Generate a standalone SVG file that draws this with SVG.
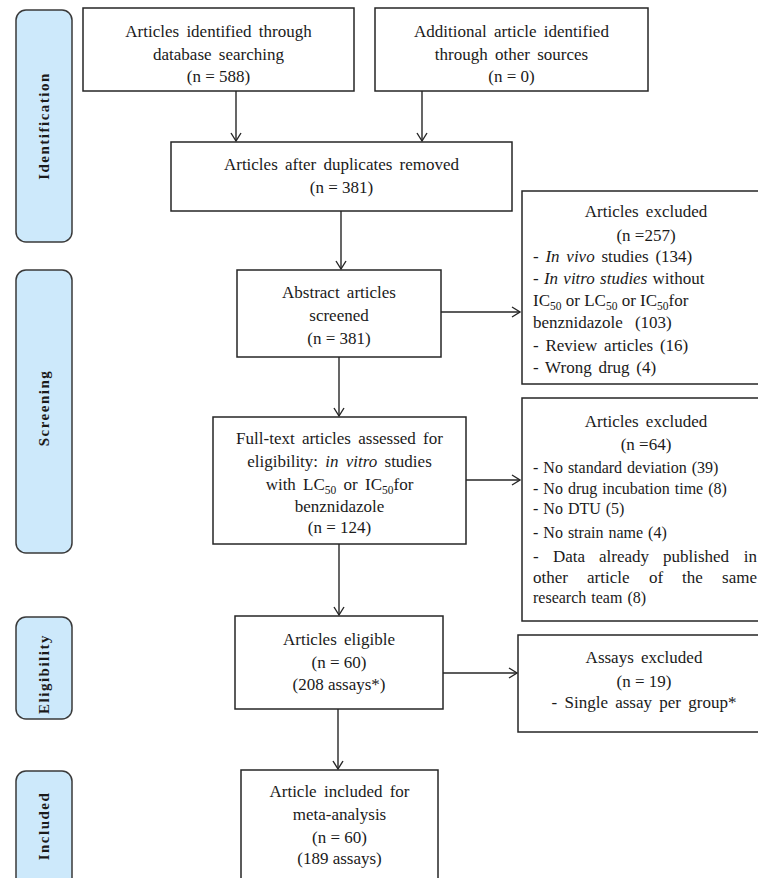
<svg xmlns="http://www.w3.org/2000/svg" width="758" height="878" viewBox="0 0 758 878">
<defs>
<style>
.bg{fill:#ffffff}
.phase{fill:#cde9fb;stroke:#3a3a3a;stroke-width:1.5}
.box{fill:#ffffff;stroke:#262626;stroke-width:1.5}
.t{font-family:"Liberation Serif","Times New Roman",serif;font-size:17px;fill:#1a1a1a}
.s16{font-size:16px}
.c{text-anchor:middle}
.e{text-anchor:end}
.ph{font-family:"Liberation Serif","Times New Roman",serif;font-size:15px;font-weight:bold;fill:#1a1a1a;text-anchor:middle;letter-spacing:1.5px}
.ws{word-spacing:3px}
.ws2{word-spacing:2.5px}
.ws1{word-spacing:1px}
.sub{font-size:11.5px}
.con{stroke:#262626;stroke-width:1.4;fill:none}
</style>
<marker id="arr" markerWidth="12" markerHeight="12" refX="10" refY="6" orient="auto" markerUnits="userSpaceOnUse">
<polyline points="2,1 10,6 2,11" fill="none" stroke="#262626" stroke-width="1.4"/>
</marker>
</defs>
<rect class="bg" x="0" y="0" width="758" height="878"/>

<g id="phase-identification">
<rect class="phase" x="16" y="10" width="56" height="232" rx="10"/>
<text class="ph" x="49" y="126" transform="rotate(-90 49 126)">Identification</text>
</g>
<g id="phase-screening">
<rect class="phase" x="16" y="270" width="56" height="283" rx="10"/>
<text class="ph" x="49" y="408" transform="rotate(-90 49 408)">Screening</text>
</g>
<g id="phase-eligibility">
<rect class="phase" x="16" y="617" width="56" height="102" rx="10"/>
<text class="ph" x="49" y="674" transform="rotate(-90 49 674)">Eligibility</text>
</g>
<g id="phase-included">
<rect class="phase" x="16" y="771" width="56" height="120" rx="10"/>
<text class="ph" x="49" y="826" transform="rotate(-90 49 826)">Included</text>
</g>

<g id="connectors">
<line class="con" x1="236" y1="91" x2="236" y2="141" marker-end="url(#arr)"/>
<line class="con" x1="422" y1="91" x2="422" y2="141" marker-end="url(#arr)"/>
<line class="con" x1="341" y1="211" x2="341" y2="269" marker-end="url(#arr)"/>
<line class="con" x1="441" y1="312" x2="520" y2="312" marker-end="url(#arr)"/>
<line class="con" x1="339" y1="357" x2="339" y2="416" marker-end="url(#arr)"/>
<line class="con" x1="466" y1="480" x2="520" y2="480" marker-end="url(#arr)"/>
<line class="con" x1="339" y1="544" x2="339" y2="615" marker-end="url(#arr)"/>
<line class="con" x1="443" y1="673" x2="517" y2="673" marker-end="url(#arr)"/>
<line class="con" x1="338" y1="709" x2="338" y2="769" marker-end="url(#arr)"/>
</g>

<g id="node-database">
<rect class="box" x="83" y="8" width="271" height="83"/>
<text class="t c ws" x="218.5" y="37">Articles identified through</text>
<text class="t c ws" x="218.5" y="60">database searching</text>
<text class="t c" x="218.5" y="82">(n = 588)</text>
</g>

<g id="node-other-sources">
<rect class="box" x="375" y="8" width="273" height="83"/>
<text class="t c ws" x="511.5" y="37">Additional article identified</text>
<text class="t c ws" x="511.5" y="60">through other sources</text>
<text class="t c" x="511.5" y="82">(n = 0)</text>
</g>

<g id="node-duplicates">
<rect class="box" x="171" y="142" width="341" height="69"/>
<text class="t c ws" x="341.5" y="170">Articles after duplicates removed</text>
<text class="t c" x="341.5" y="193">(n = 381)</text>
</g>

<g id="node-abstract">
<rect class="box" x="237" y="270" width="204" height="87"/>
<text class="t c ws" x="339" y="298">Abstract articles</text>
<text class="t c" x="339" y="321">screened</text>
<text class="t c" x="339" y="344">(n = 381)</text>
</g>

<g id="node-excluded-abstract">
<rect class="box" x="522" y="191" width="250" height="193"/>
<text class="t c ws" x="646" y="217">Articles excluded</text>
<text class="t c" x="646" y="241">(n =257)</text>
<text class="t ws2" x="533" y="262">- <tspan font-style="italic">In vivo</tspan> studies (134)</text>
<text class="t ws1" x="533" y="284">- <tspan font-style="italic">In vitro studies</tspan> without</text>
<text class="t" x="533" y="306">IC<tspan class="sub" dy="4">50</tspan><tspan dy="-4"> or LC</tspan><tspan class="sub" dy="4">50</tspan><tspan dy="-4"> or IC</tspan><tspan class="sub" dy="4">50</tspan><tspan dy="-4">for</tspan></text>
<text class="t" x="533" y="328" word-spacing="8">benznidazole (103)</text>
<text class="t ws2" x="533" y="351">- Review articles (16)</text>
<text class="t ws2" x="533" y="373">- Wrong drug (4)</text>
</g>

<g id="node-fulltext">
<rect class="box" x="213" y="417" width="253" height="127"/>
<text class="t c ws" x="339.5" y="444">Full-text articles assessed for</text>
<text class="t c ws" x="339.5" y="467">eligibility: <tspan font-style="italic">in vitro</tspan> studies</text>
<text class="t c ws" x="339.5" y="490">with LC<tspan class="sub" dy="4">50</tspan><tspan dy="-4"> or IC</tspan><tspan class="sub" dy="4">50</tspan><tspan dy="-4">for</tspan></text>
<text class="t c" x="339.5" y="512">benznidazole</text>
<text class="t c" x="339.5" y="533">(n = 124)</text>
</g>

<g id="node-excluded-fulltext">
<rect class="box" x="522" y="398" width="250" height="223"/>
<text class="t c ws" x="646" y="427">Articles excluded</text>
<text class="t c" x="646" y="450">(n =64)</text>
<text class="t s16 ws1" x="533" y="473">- No standard deviation (39)</text>
<text class="t s16 ws1" x="533" y="494">- No drug incubation time (8)</text>
<text class="t s16 ws1" x="533" y="514">- No DTU (5)</text>
<text class="t s16 ws1" x="533" y="538">- No strain name (4)</text>
<text class="t" y="562"><tspan x="533">-</tspan><tspan x="553">Data</tspan><tspan x="599">already</tspan><tspan x="663">published</tspan><tspan class="e" x="757">in</tspan></text>
<text class="t" y="583"><tspan x="533">other</tspan><tspan x="587">article</tspan><tspan x="649">of</tspan><tspan x="682">the</tspan><tspan class="e" x="757">same</tspan></text>
<text class="t s16 ws1" x="533" y="603">research team (8)</text>
</g>

<g id="node-eligible">
<rect class="box" x="235" y="616" width="208" height="93"/>
<text class="t c ws" x="339" y="645">Articles eligible</text>
<text class="t c" x="339" y="668">(n = 60)</text>
<text class="t c" x="339" y="690">(208 assays*)</text>
</g>

<g id="node-excluded-assays">
<rect class="box" x="518" y="635" width="254" height="97"/>
<text class="t c ws" x="644" y="663">Assays excluded</text>
<text class="t c" x="644" y="687">(n = 19)</text>
<text class="t c ws" x="644" y="708">- Single assay per group*</text>
</g>

<g id="node-included">
<rect class="box" x="241" y="770" width="197" height="120"/>
<text class="t c ws" x="339.5" y="797">Article included for</text>
<text class="t c" x="339.5" y="820">meta-analysis</text>
<text class="t c" x="339.5" y="843">(n = 60)</text>
<text class="t c" x="339.5" y="864">(189 assays)</text>
</g>
</svg>
